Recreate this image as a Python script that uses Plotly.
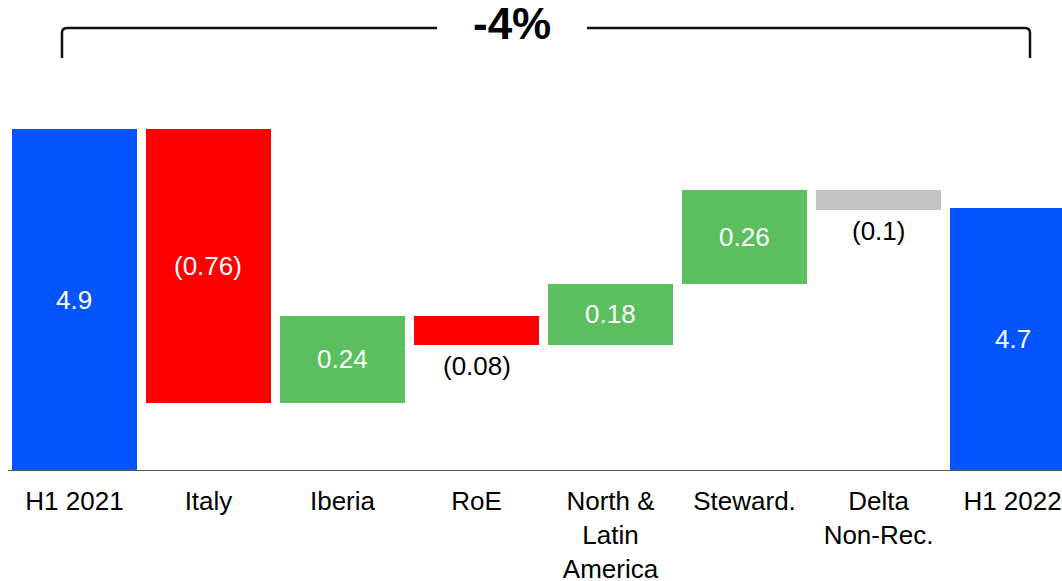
import plotly.graph_objects as go

# ---------------- data ----------------
categories = ["H1 2021", "Italy", "Iberia", "RoE", "North &<br>Latin<br>America",
              "Steward.", "Delta<br>Non-Rec.", "H1 2022"]
values = [4.90, -0.76, 0.24, -0.08, 0.17, 0.26, -0.055, 4.68]
labels = ["4.9", "(0.76)", "0.24", "(0.08)", "0.18", "0.26", "(0.1)", "4.7"]
measures = ["absolute", "relative", "relative", "relative", "relative",
            "relative", "relative", "absolute"]
change_label = "-4%"

# ---------------- style ----------------
BLUE, RED, GREEN, GREY = "#0555FF", "#FF0000", "#5BBF5F", "#C4C4C4"
bar_colors = [BLUE, RED, GREEN, RED, GREEN, GREEN, GREY, BLUE]
FONT = "Liberation Sans, Arial, sans-serif"
W, H = 1062, 581
ML, MR, MT, MB = 8, 0, 0, 111
plot_w, plot_h = W - ML - MR, H - MT - MB
px_per_unit = 360.0
y_min = 3.953
y_max = y_min + plot_h / px_per_unit

# ---------------- waterfall geometry from data ----------------
bases, heights, lows, highs = [], [], [], []
running = 0.0
for m, v in zip(measures, values):
    if m == "absolute":
        bases.append(0.0)
        heights.append(v)
        lows.append(y_min)
        highs.append(v)
        running = v
    else:
        start, end = running, running + v
        lo, hi = min(start, end), max(start, end)
        bases.append(lo)
        heights.append(hi - lo)
        lows.append(lo)
        highs.append(hi)
        running = end

xs = list(range(len(categories)))

fig = go.Figure(go.Bar(
    x=xs, y=heights, base=bases, width=0.933,
    marker=dict(color=bar_colors, line=dict(width=0)),
    hoverinfo="skip",
))

annotations = []
for i, (lab, v, lo, hi) in enumerate(zip(labels, values, lows, highs)):
    if measures[i] == "relative" and abs(v) < 0.1:
        annotations.append(dict(x=i, y=lo, xref="x", yref="y", text=lab,
                                showarrow=False, yanchor="top", yshift=-4,
                                font=dict(size=26, color="black", family=FONT)))
    else:
        annotations.append(dict(x=i, y=(lo + hi) / 2, xref="x", yref="y", text=lab,
                                showarrow=False, yanchor="middle",
                                font=dict(size=26, color="white", family=FONT)))


def px_x(X):
    return (X - ML) / plot_w


def px_y(Y):
    return (MT + plot_h - Y) / plot_h


annotations.append(dict(x=px_x(512), y=px_y(24), xref="paper", yref="paper",
                        text="<b>" + change_label + "</b>", showarrow=False,
                        yanchor="middle", xanchor="center",
                        font=dict(size=44, color="black", family=FONT)))


def pt(X, Y):
    return f"{px_x(X):.5f},{px_y(Y):.5f}"


left_path = (f"M {pt(62, 58)} L {pt(62, 33)} Q {pt(62, 28)} {pt(67, 28)} L {pt(437, 28)}")
right_path = (f"M {pt(587, 28)} L {pt(1025, 28)} Q {pt(1030, 28)} {pt(1030, 33)} L {pt(1030, 58)}")
shapes = [dict(type="path", path=p, xref="paper", yref="paper",
               line=dict(color="#111111", width=2.5)) for p in (left_path, right_path)]

fig.update_layout(
    width=W, height=H,
    margin=dict(l=ML, r=MR, t=MT, b=MB, pad=0, autoexpand=False),
    paper_bgcolor="white", plot_bgcolor="white",
    showlegend=False, bargap=0,
    annotations=annotations, shapes=shapes,
    xaxis=dict(range=[-0.496, 7.369], tickmode="array", tickvals=xs, ticktext=categories,
               tickfont=dict(size=26, color="black", family=FONT),
               ticklabelstandoff=8, automargin=False,
               showgrid=False, zeroline=False, showline=True,
               linecolor="#595959", linewidth=1, ticks="", fixedrange=True),
    yaxis=dict(range=[y_min, y_max], visible=False, fixedrange=True, automargin=False),
)

fig.write_html(
    "out.html",
    config={"displayModeBar": False, "staticPlot": True},
    post_script="document.body.style.margin='0';document.body.style.overflow='hidden';",
)
